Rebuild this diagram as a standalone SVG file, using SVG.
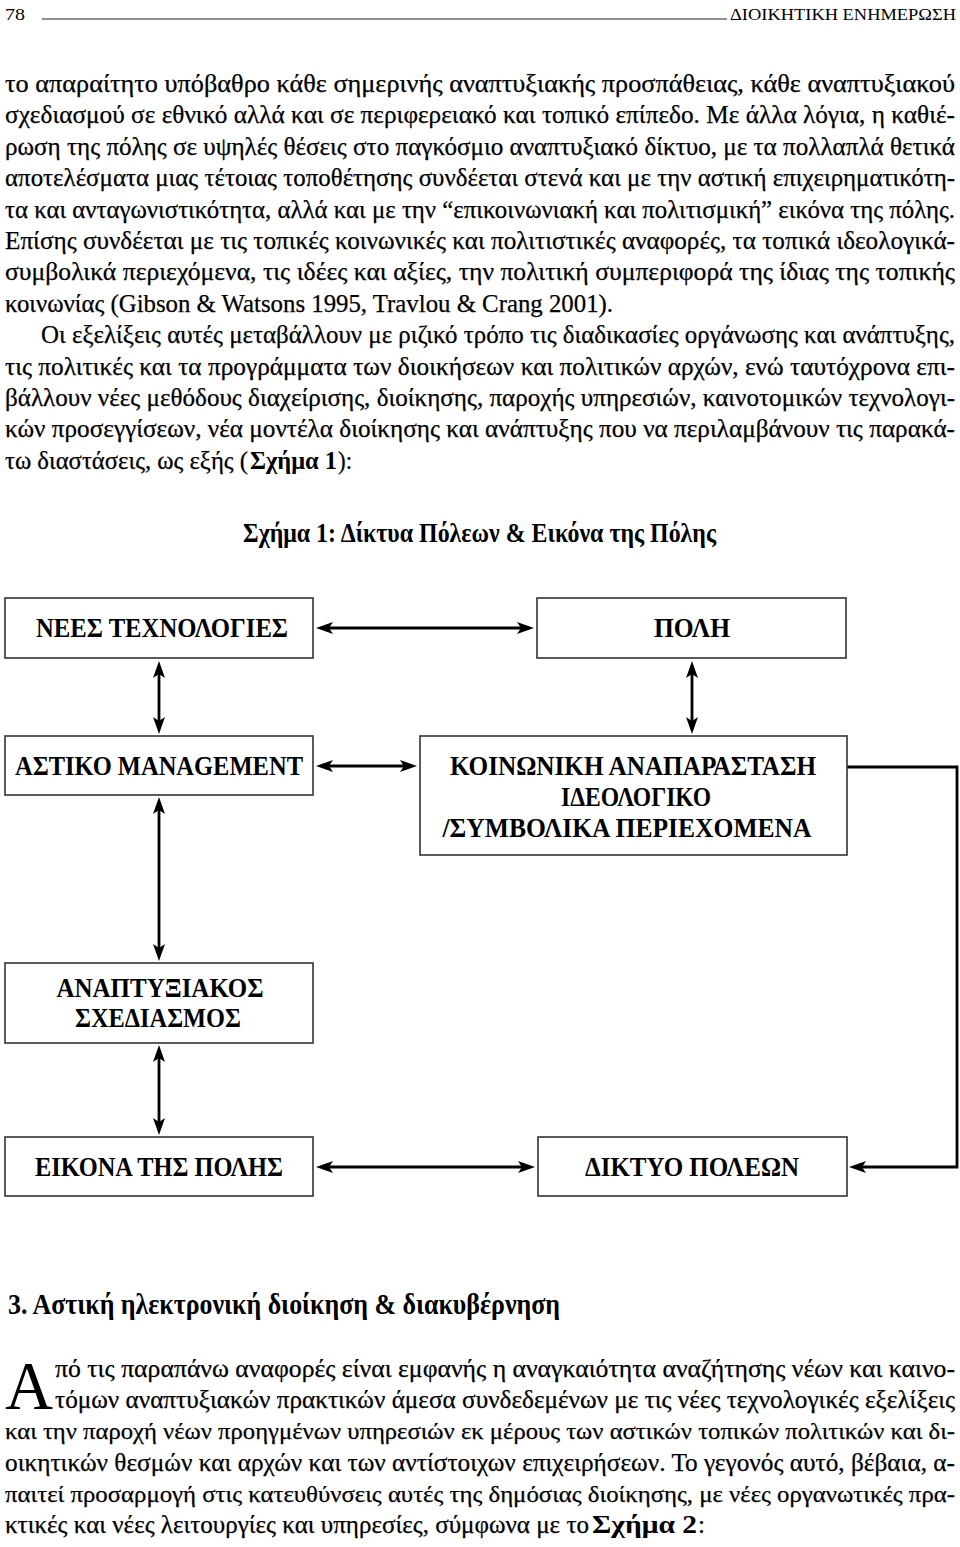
<svg xmlns="http://www.w3.org/2000/svg" width="960" height="1547" viewBox="0 0 960 1547">
<style>
.hd{font-family:"Liberation Serif",serif;font-size:17px;fill:#000}
.b{font-family:"Liberation Serif",serif;font-size:25px;fill:#000;stroke:#000;stroke-width:0.25}
.s{font-size:23.5px}
.bb{font-family:"Liberation Serif",serif;font-size:25px;font-weight:bold;fill:#000}
.ttl{font-family:"Liberation Serif",serif;font-size:27px;font-weight:bold;fill:#000}
.h3{font-family:"Liberation Serif",serif;font-size:29px;font-weight:bold;fill:#000}
.cap{font-family:"Liberation Serif",serif;font-size:68px;fill:#000}
.box{fill:#fff;stroke:#333;stroke-width:1.6}
.lbl{font-family:"Liberation Serif",serif;font-size:28px;font-weight:bold;fill:#000;text-anchor:middle}
.con{fill:none;stroke:#000;stroke-width:2.8}
</style>
<defs>
<marker id="ah" markerUnits="userSpaceOnUse" markerWidth="20" markerHeight="14" refX="8" refY="6" orient="auto-start-reverse">
<path d="M0,0 L17,6 L0,12 L4,6 z" fill="#000"/>
</marker>
</defs>
<rect x="0" y="0" width="960" height="1547" fill="#fff"/>

<text class="hd" x="5" y="20" textLength="20" lengthAdjust="spacingAndGlyphs">78</text>
<line x1="42" y1="19" x2="727" y2="19" stroke="#222" stroke-width="1"/>
<text class="hd" x="730" y="20" textLength="226" lengthAdjust="spacingAndGlyphs">ΔΙΟΙΚΗΤΙΚΗ ΕΝΗΜΕΡΩΣΗ</text>

<g id="body1">
<text class="b" x="5" y="92" textLength="950" lengthAdjust="spacingAndGlyphs">το απαραίτητο υπόβαθρο κάθε σημερινής αναπτυξιακής προσπάθειας, κάθε αναπτυξιακού</text>
<text class="b" x="5" y="123.4" textLength="950" lengthAdjust="spacingAndGlyphs">σχεδιασμού σε εθνικό αλλά και σε περιφερειακό και τοπικό επίπεδο. Με άλλα λόγια, η καθιέ-</text>
<text class="b" x="5" y="154.8" textLength="950" lengthAdjust="spacingAndGlyphs">ρωση της πόλης σε υψηλές θέσεις στο  παγκόσμιο αναπτυξιακό δίκτυο, με τα πολλαπλά θετικά</text>
<text class="b" x="5" y="186.2" textLength="950" lengthAdjust="spacingAndGlyphs">αποτελέσματα μιας τέτοιας τοποθέτησης συνδέεται στενά και με την αστική επιχειρηματικότη-</text>
<text class="b" x="5" y="217.6" textLength="950" lengthAdjust="spacingAndGlyphs">τα και ανταγωνιστικότητα, αλλά και με την “επικοινωνιακή και πολιτισμική” εικόνα της πόλης.</text>
<text class="b" x="5" y="249" textLength="950" lengthAdjust="spacingAndGlyphs">Επίσης συνδέεται με τις τοπικές κοινωνικές και πολιτιστικές αναφορές, τα τοπικά ιδεολογικά-</text>
<text class="b" x="5" y="280.4" textLength="950" lengthAdjust="spacingAndGlyphs">συμβολικά περιεχόμενα, τις ιδέες και αξίες, την  πολιτική συμπεριφορά της ίδιας της τοπικής</text>
<text class="b" x="5" y="311.8" textLength="608" lengthAdjust="spacingAndGlyphs">κοινωνίας (Gibson &amp; Watsons 1995, Travlou &amp; Crang 2001).</text>
<text class="b" x="41" y="343.2" textLength="914" lengthAdjust="spacingAndGlyphs">Οι εξελίξεις αυτές μεταβάλλουν με ριζικό τρόπο τις διαδικασίες οργάνωσης και ανάπτυξης,</text>
<text class="b" x="5" y="374.6" textLength="950" lengthAdjust="spacingAndGlyphs">τις πολιτικές και τα προγράμματα των διοικήσεων και πολιτικών αρχών, ενώ ταυτόχρονα επι-</text>
<text class="b" x="5" y="406" textLength="950" lengthAdjust="spacingAndGlyphs">βάλλουν νέες μεθόδους διαχείρισης, διοίκησης, παροχής υπηρεσιών, καινοτομικών τεχνολογι-</text>
<text class="b" x="5" y="437.4" textLength="950" lengthAdjust="spacingAndGlyphs">κών προσεγγίσεων, νέα μοντέλα διοίκησης και ανάπτυξης που να περιλαμβάνουν τις παρακά-</text>
<text class="b" x="5" y="468.8" textLength="243" lengthAdjust="spacingAndGlyphs">τω διαστάσεις, ως εξής (</text>
<text class="bb" x="250" y="468.8" textLength="87" lengthAdjust="spacingAndGlyphs">Σχήμα 1</text>
<text class="b" x="338" y="468.8" textLength="14" lengthAdjust="spacingAndGlyphs">):</text>
</g>

<text class="ttl" x="243" y="542" textLength="473" lengthAdjust="spacingAndGlyphs">Σχήμα 1:  Δίκτυα Πόλεων &amp; Εικόνα της Πόλης</text>

<g id="connectors">
<line class="con" x1="325" y1="628" x2="525" y2="628" marker-start="url(#ah)" marker-end="url(#ah)"/>
<line class="con" x1="159" y1="670" x2="159" y2="725" marker-start="url(#ah)" marker-end="url(#ah)"/>
<line class="con" x1="692" y1="670" x2="692" y2="725" marker-start="url(#ah)" marker-end="url(#ah)"/>
<line class="con" x1="325" y1="766" x2="408" y2="766" marker-start="url(#ah)" marker-end="url(#ah)"/>
<line class="con" x1="159" y1="806" x2="159" y2="952" marker-start="url(#ah)" marker-end="url(#ah)"/>
<line class="con" x1="159" y1="1054" x2="159" y2="1126" marker-start="url(#ah)" marker-end="url(#ah)"/>
<line class="con" x1="325" y1="1167" x2="526" y2="1167" marker-start="url(#ah)" marker-end="url(#ah)"/>
<path class="con" d="M847,767 H957 V1167 H858" marker-end="url(#ah)"/>
</g>

<g id="n1"><rect class="box" x="5" y="598" width="308" height="60"/>
<text class="lbl" x="162" y="637" textLength="252" lengthAdjust="spacingAndGlyphs">ΝΕΕΣ ΤΕΧΝΟΛΟΓΙΕΣ</text></g>
<g id="n2"><rect class="box" x="537" y="598" width="309" height="60"/>
<text class="lbl" x="692" y="637" textLength="76" lengthAdjust="spacingAndGlyphs">ΠΟΛΗ</text></g>
<g id="n3"><rect class="box" x="5" y="736" width="308" height="59"/>
<text class="lbl" x="159" y="775" textLength="288" lengthAdjust="spacingAndGlyphs">ΑΣΤΙΚΟ MANAGEMENT</text></g>
<g id="n4"><rect class="box" x="420" y="736" width="427" height="119"/>
<text class="lbl" x="633" y="775" textLength="366" lengthAdjust="spacingAndGlyphs">ΚΟΙΝΩΝΙΚΗ ΑΝΑΠΑΡΑΣΤΑΣΗ</text>
<text class="lbl" x="636" y="806" textLength="150" lengthAdjust="spacingAndGlyphs">ΙΔΕΟΛΟΓΙΚΟ</text>
<text class="lbl" x="627" y="837" textLength="369" lengthAdjust="spacingAndGlyphs">/ΣΥΜΒΟΛΙΚΑ ΠΕΡΙΕΧΟΜΕΝΑ</text></g>
<g id="n5"><rect class="box" x="5" y="963" width="308" height="80"/>
<text class="lbl" x="160" y="997" textLength="207" lengthAdjust="spacingAndGlyphs">ΑΝΑΠΤΥΞΙΑΚΟΣ</text>
<text class="lbl" x="158" y="1027" textLength="166" lengthAdjust="spacingAndGlyphs">ΣΧΕΔΙΑΣΜΟΣ</text></g>
<g id="n6"><rect class="box" x="5" y="1137" width="308" height="59"/>
<text class="lbl" x="159" y="1176" textLength="248" lengthAdjust="spacingAndGlyphs">ΕΙΚΟΝΑ ΤΗΣ ΠΟΛΗΣ</text></g>
<g id="n7"><rect class="box" x="538" y="1137" width="309" height="59"/>
<text class="lbl" x="692" y="1176" textLength="214" lengthAdjust="spacingAndGlyphs">ΔΙΚΤΥΟ ΠΟΛΕΩΝ</text></g>

<text class="h3" x="8" y="1314" textLength="552" lengthAdjust="spacingAndGlyphs">3. Αστική ηλεκτρονική διοίκηση &amp; διακυβέρνηση</text>

<g id="body2">
<text class="cap" x="5" y="1408" textLength="48" lengthAdjust="spacingAndGlyphs">Α</text>
<text class="b" x="55" y="1377" textLength="900" lengthAdjust="spacingAndGlyphs">πό τις παραπάνω αναφορές είναι εμφανής η αναγκαιότητα αναζήτησης νέων και καινο-</text>
<text class="b" x="55" y="1408.2" textLength="900" lengthAdjust="spacingAndGlyphs">τόμων αναπτυξιακών πρακτικών άμεσα συνδεδεμένων με τις νέες τεχνολογικές εξελίξεις</text>
<text class="b s" x="5" y="1439.4" textLength="950" lengthAdjust="spacingAndGlyphs">και την παροχή νέων προηγμένων υπηρεσιών εκ μέρους των αστικών τοπικών πολιτικών και δι-</text>
<text class="b" x="5" y="1470.6" textLength="950" lengthAdjust="spacingAndGlyphs">οικητικών θεσμών και αρχών και των αντίστοιχων επιχειρήσεων. Το γεγονός αυτό, βέβαια, α-</text>
<text class="b s" x="5" y="1501.8" textLength="950" lengthAdjust="spacingAndGlyphs">παιτεί προσαρμογή στις κατευθύνσεις αυτές της δημόσιας διοίκησης, με νέες οργανωτικές πρα-</text>
<text class="b" x="5" y="1533" textLength="584" lengthAdjust="spacingAndGlyphs">κτικές και νέες λειτουργίες και υπηρεσίες, σύμφωνα με το </text>
<text class="bb" x="592" y="1533" textLength="105" lengthAdjust="spacingAndGlyphs">Σχήμα 2</text>
<text class="b" x="698" y="1533" textLength="7" lengthAdjust="spacingAndGlyphs">:</text>
</g>
</svg>
